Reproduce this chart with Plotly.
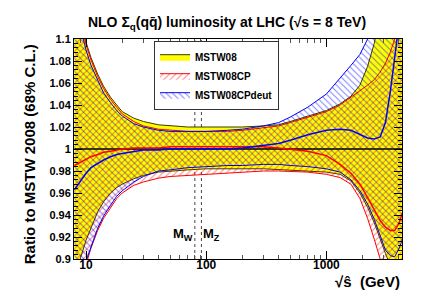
import math
import plotly.graph_objects as go

# ---------------- data ----------------
sqrt_s_hat = [8, 9, 10, 11, 12.5, 14, 16, 18, 20, 25,
              30, 40, 50, 70, 100, 150, 200, 300, 400, 500,
              700, 1000, 1300, 1600, 1900, 2200, 2500, 2800, 3100, 3400,
              3700, 4000, 4300]

mstw08_up = [1.140, 1.118, 1.097, 1.083, 1.068, 1.057, 1.047, 1.040, 1.034, 1.028,
             1.025, 1.022, 1.021, 1.020, 1.020, 1.020, 1.020, 1.021, 1.022, 1.025,
             1.030, 1.035, 1.041, 1.048, 1.058, 1.075, 1.096, 1.120, 1.150, 1.170,
             1.190, 1.210, 1.230]
mstw08_lo = [0.880, 0.901, 0.917, 0.929, 0.943, 0.952, 0.960, 0.965, 0.968, 0.973,
             0.976, 0.979, 0.980, 0.981, 0.982, 0.982, 0.982, 0.982, 0.981, 0.981,
             0.980, 0.979, 0.977, 0.971, 0.960, 0.947, 0.933, 0.919, 0.905, 0.894,
             0.882, 0.868, 0.850]
mstw08_central_x = [8, 4300]
mstw08_central = [1.0, 1.0]

cp_up = [1.138, 1.116, 1.095, 1.081, 1.066, 1.055, 1.045, 1.038, 1.032, 1.025,
         1.021, 1.018, 1.017, 1.016, 1.016, 1.016, 1.017, 1.019, 1.021, 1.024,
         1.029, 1.034, 1.040, 1.047, 1.053, 1.058, 1.063, 1.070, 1.078, 1.088,
         1.100, 1.112, 1.125]
cp_central = [0.985, 0.988, 0.991, 0.993, 0.995, 0.997, 0.998, 0.999, 1.000, 1.001,
              1.001, 1.001, 1.002, 1.002, 1.002, 1.002, 1.002, 1.002, 1.001, 1.000,
              0.998, 0.994, 0.986, 0.978, 0.968, 0.956, 0.945, 0.935, 0.929, 0.926,
              0.926, 0.932, 0.942]
cp_lo = [0.850, 0.875, 0.895, 0.910, 0.926, 0.937, 0.947, 0.955, 0.960, 0.967,
         0.970, 0.9735, 0.975, 0.976, 0.977, 0.978, 0.979, 0.980, 0.980, 0.980,
         0.979, 0.977, 0.974, 0.968, 0.955, 0.937, 0.918, 0.900, 0.880, 0.860,
         0.840, 0.820, 0.800]

deut_up = [1.132, 1.110, 1.090, 1.076, 1.062, 1.051, 1.042, 1.035, 1.030, 1.023,
           1.020, 1.017, 1.016, 1.016, 1.016, 1.017, 1.018, 1.021, 1.024, 1.029,
           1.038, 1.050, 1.064, 1.076, 1.086, 1.099, 1.112, 1.125, 1.140, 1.155,
           1.170, 1.190, 1.210]
deut_central = [0.963, 0.971, 0.978, 0.983, 0.987, 0.990, 0.993, 0.995, 0.996, 0.998,
                0.999, 0.999, 1.000, 1.000, 1.000, 1.000, 1.001, 1.003, 1.005, 1.008,
                1.013, 1.017, 1.018, 1.017, 1.013, 1.010, 1.009, 1.011, 1.024, 1.052,
                1.083, 1.112, 1.140]
deut_lo = [0.855, 0.878, 0.898, 0.912, 0.928, 0.939, 0.949, 0.957, 0.962, 0.970,
           0.975, 0.980, 0.981, 0.983, 0.984, 0.985, 0.985, 0.986, 0.986, 0.985,
           0.984, 0.982, 0.979, 0.972, 0.962, 0.950, 0.936, 0.922, 0.908, 0.903,
           0.902, 0.909, 0.918]

mass_W = 80.4
mass_Z = 91.19
y_range = [0.9, 1.1]

x_tickvals = [10, 100, 1000]
x_ticktext = ["10", "100", "1000"]
x_minor = [8, 9, 20, 30, 40, 50, 60, 70, 80, 90, 200, 300, 400, 500, 600, 700, 800, 900,
           2000, 3000, 4000]
y_tickvals = [0.9, 0.92, 0.94, 0.96, 0.98, 1.0, 1.02, 1.04, 1.06, 1.08, 1.1]
y_ticktext = ["0.9", "0.92", "0.94", "0.96", "0.98", "1", "1.02", "1.04", "1.06", "1.08", "1.1"]

FONT = "Liberation Sans, Arial, Helvetica, sans-serif"

fig = go.Figure()

# vertical dotted lines at the W and Z masses (behind the bands)
for m in (mass_W, mass_Z):
    fig.add_trace(go.Scatter(x=[m, m], y=y_range, mode="lines",
                             line=dict(color="#444444", width=1, dash="dot"),
                             showlegend=False, hoverinfo="skip"))


def band(up, lo):
    return sqrt_s_hat + sqrt_s_hat[::-1], up + lo[::-1]


bx, by = band(mstw08_up, mstw08_lo)
fig.add_trace(go.Scatter(x=bx, y=by, fill="toself", mode="lines", name="MSTW08",
                         fillcolor="#ffff00", line=dict(color="#3a3a00", width=1)))

bx, by = band(cp_up, cp_lo)
fig.add_trace(go.Scatter(x=bx, y=by, fill="toself", mode="lines", name="MSTW08CP",
                         fillcolor="rgba(0,0,0,0)",
                         fillpattern=dict(shape="/", fgcolor="#ff0000", bgcolor="rgba(0,0,0,0)",
                                          size=4.5, solidity=0.22),
                         line=dict(color="#ff0000", width=1)))

bx, by = band(deut_up, deut_lo)
fig.add_trace(go.Scatter(x=bx, y=by, fill="toself", mode="lines", name="MSTW08CPdeut",
                         fillcolor="rgba(0,0,0,0)",
                         fillpattern=dict(shape="\\", fgcolor="#0000ff", bgcolor="rgba(0,0,0,0)",
                                          size=4.5, solidity=0.22),
                         line=dict(color="#0000ff", width=1)))

# central lines
fig.add_trace(go.Scatter(x=mstw08_central_x, y=mstw08_central, mode="lines",
                         line=dict(color="black", width=1.5), showlegend=False))
fig.add_trace(go.Scatter(x=sqrt_s_hat, y=cp_central, mode="lines",
                         line=dict(color="#ff0000", width=1.5), showlegend=False))
fig.add_trace(go.Scatter(x=sqrt_s_hat, y=deut_central, mode="lines",
                         line=dict(color="#0000ff", width=1.5), showlegend=False))

fig.update_layout(
    width=438, height=297,
    margin=dict(l=66, r=44, t=31, b=46),
    paper_bgcolor="white", plot_bgcolor="white",
    font=dict(family=FONT, size=11, color="black", weight="bold"),
    title=dict(text="NLO Σ<sub>q</sub>(qq\u0304) luminosity at LHC (√s = 8 TeV)",
               x=0.5, xanchor="center", y=1 - 14 / 297, yanchor="middle",
               yref="container",
               font=dict(family=FONT, size=14, weight="bold")),
    legend=dict(x=0.244, y=0.99, xanchor="left", yanchor="top",
                bgcolor="white", bordercolor="#333333", borderwidth=1,
                font=dict(family=FONT, size=10, weight="bold"),
                tracegroupgap=0, itemwidth=30),
    xaxis=dict(type="log", range=[math.log10(7.94), math.log10(4256)],
               showline=True, linecolor="black", linewidth=1, mirror="allticks",
               ticks="inside", ticklen=8, tickcolor="black",
               tickvals=x_tickvals, ticktext=x_ticktext, showgrid=False,
               zeroline=False, ticklabelstandoff=-5,
               tickfont=dict(family=FONT, size=12, weight="bold"),
               minor=dict(tickvals=x_minor, ticks="inside", ticklen=4,
                          tickcolor="#555555", showgrid=False)),
    yaxis=dict(range=y_range, showline=True, linecolor="black", linewidth=1,
               mirror="allticks", ticks="inside", ticklen=8, tickcolor="black",
               tickvals=y_tickvals, ticktext=y_ticktext, showgrid=False,
               zeroline=False,
               tickfont=dict(family=FONT, size=11, weight="bold"),
               minor=dict(dtick=0.004, ticks="inside", ticklen=4,
                          tickcolor="black", showgrid=False)),
    annotations=[
        dict(text="Ratio to MSTW 2008 (68% C.L.)", xref="paper", yref="paper",
             x=-0.135, y=0.475, textangle=-90, showarrow=False,
             xanchor="center", yanchor="middle",
             font=dict(family=FONT, size=15, weight="bold")),
        dict(text="√ŝ  (GeV)", xref="paper", yref="paper", x=1.0, y=-0.10,
             xanchor="right", yanchor="middle", showarrow=False,
             font=dict(family=FONT, size=15, weight="bold")),
        dict(text="M<sub>W</sub>", xref="x", yref="y", x=math.log10(mass_W), y=0.922,
             xanchor="right", yanchor="middle", showarrow=False,
             font=dict(family=FONT, size=13, weight="bold")),
        dict(text="M<sub>Z</sub>", xref="x", yref="y", x=math.log10(mass_Z), y=0.922,
             xanchor="left", yanchor="middle", showarrow=False,
             font=dict(family=FONT, size=13, weight="bold")),
    ],
)

fig.write_html("out.html")
